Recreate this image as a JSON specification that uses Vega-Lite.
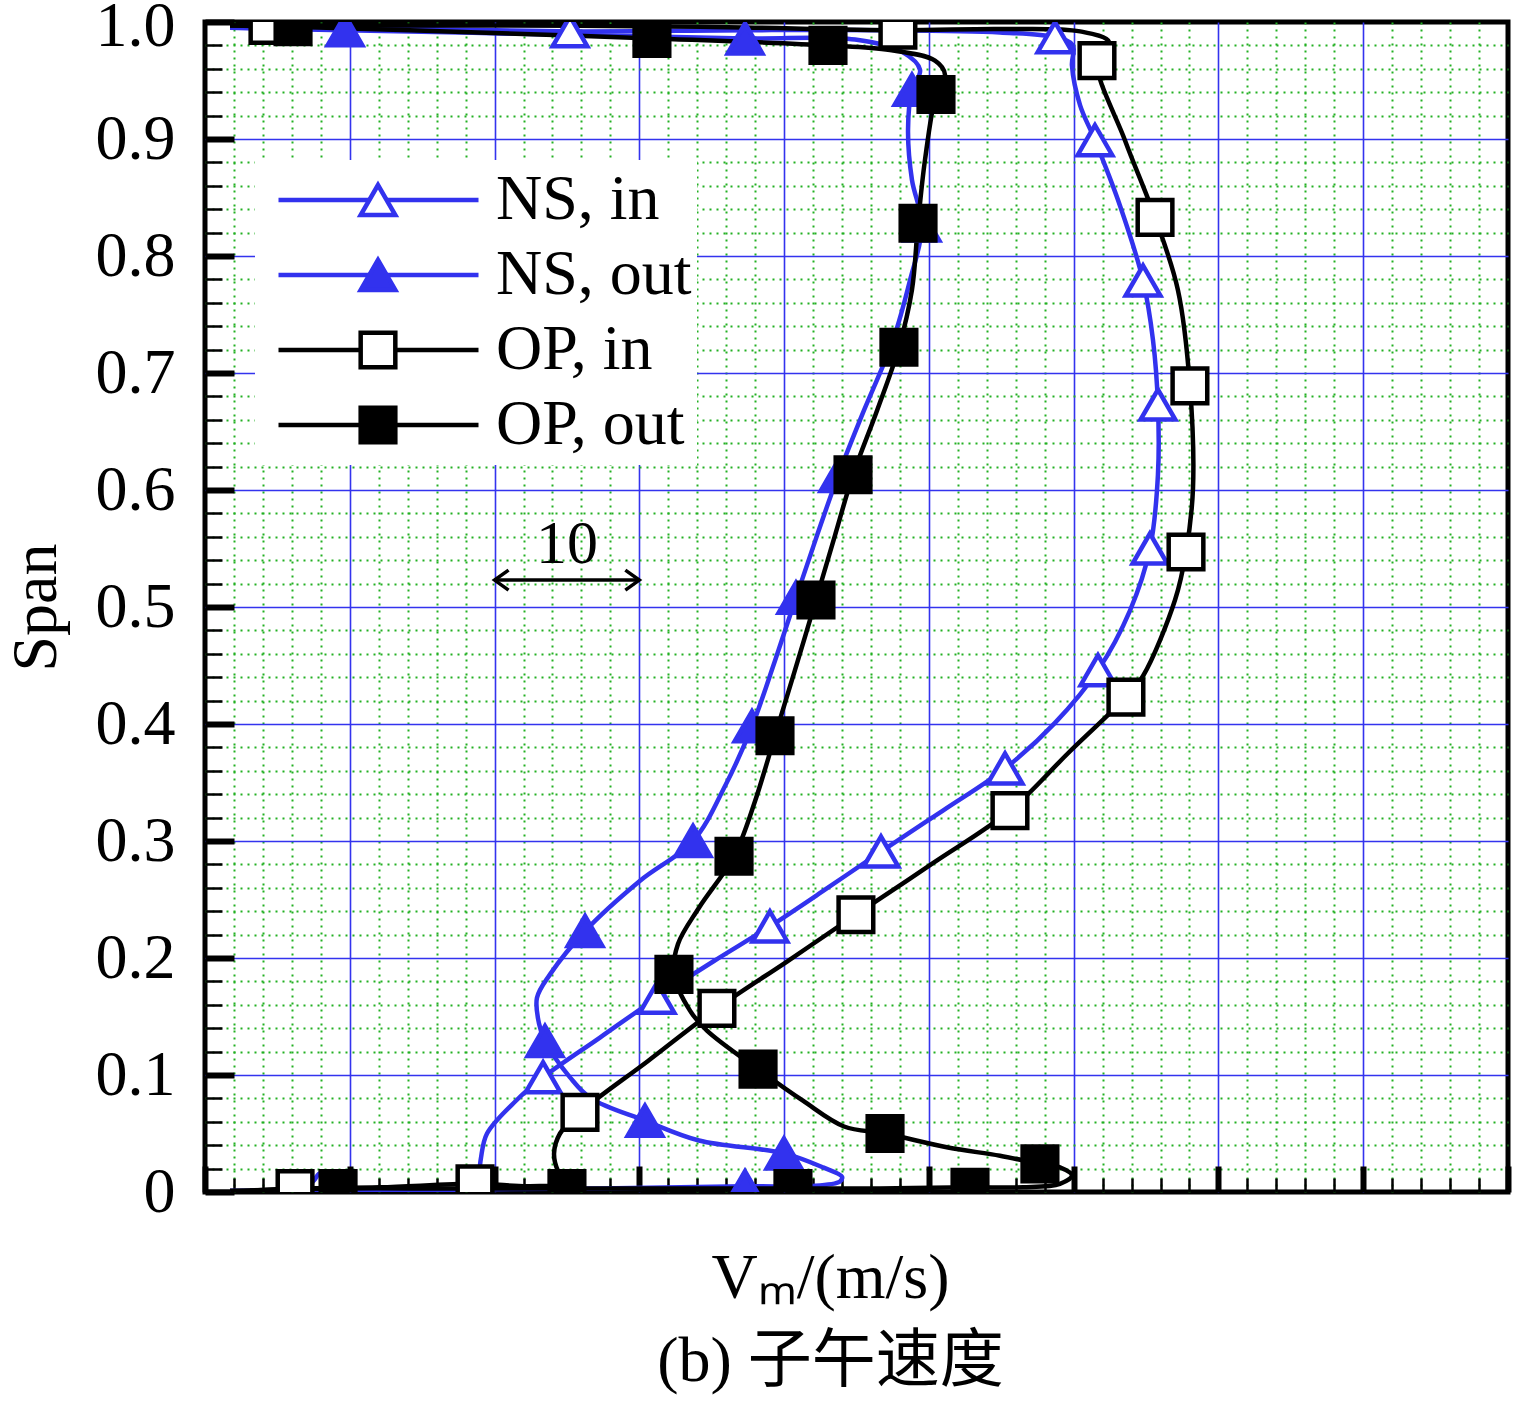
{
  "$schema": "https://vega.github.io/schema/vega-lite/v6.json",
  "width": 1303,
  "height": 1170,
  "autosize": {"type": "none"},
  "padding": {"left": 205, "top": 22, "right": 16, "bottom": 212},
  "background": "white",
  "config": {
    "view": {"stroke": "black", "strokeWidth": 5},
    "text": {"font": "Liberation Serif"}
  },
  "datasets": {
    "curves": [
      {"series": "NS, in", "k": 1, "vm": 3.11, "span": 0.001, "marker": 0},
      {"series": "NS, in", "k": 2, "vm": 6.56, "span": 0.003, "marker": 0},
      {"series": "NS, in", "k": 3, "vm": 7.46, "span": 0.009, "marker": 0},
      {"series": "NS, in", "k": 4, "vm": 7.94, "span": 0.016, "marker": 0},
      {"series": "NS, in", "k": 5, "vm": 8.43, "span": 0.008, "marker": 0},
      {"series": "NS, in", "k": 6, "vm": 9.67, "span": 0.002, "marker": 0},
      {"series": "NS, in", "k": 7, "vm": 14.85, "span": 0.002, "marker": 0},
      {"series": "NS, in", "k": 8, "vm": 18.86, "span": 0.003, "marker": 0},
      {"series": "NS, in", "k": 9, "vm": 18.92, "span": 0.012, "marker": 0},
      {"series": "NS, in", "k": 10, "vm": 19.06, "span": 0.029, "marker": 0},
      {"series": "NS, in", "k": 11, "vm": 19.48, "span": 0.05, "marker": 0},
      {"series": "NS, in", "k": 12, "vm": 21.48, "span": 0.078, "marker": 0},
      {"series": "NS, in", "k": 13, "vm": 23.35, "span": 0.098, "marker": 1},
      {"series": "NS, in", "k": 14, "vm": 27.28, "span": 0.132, "marker": 0},
      {"series": "NS, in", "k": 15, "vm": 31.22, "span": 0.166, "marker": 1},
      {"series": "NS, in", "k": 16, "vm": 35.1, "span": 0.197, "marker": 0},
      {"series": "NS, in", "k": 17, "vm": 39.02, "span": 0.227, "marker": 1},
      {"series": "NS, in", "k": 18, "vm": 42.9, "span": 0.259, "marker": 0},
      {"series": "NS, in", "k": 19, "vm": 46.69, "span": 0.291, "marker": 1},
      {"series": "NS, in", "k": 20, "vm": 50.97, "span": 0.326, "marker": 0},
      {"series": "NS, in", "k": 21, "vm": 55.26, "span": 0.362, "marker": 1},
      {"series": "NS, in", "k": 22, "vm": 58.71, "span": 0.401, "marker": 0},
      {"series": "NS, in", "k": 23, "vm": 61.68, "span": 0.446, "marker": 1},
      {"series": "NS, in", "k": 24, "vm": 63.89, "span": 0.497, "marker": 0},
      {"series": "NS, in", "k": 25, "vm": 65.27, "span": 0.55, "marker": 1},
      {"series": "NS, in", "k": 26, "vm": 65.82, "span": 0.613, "marker": 0},
      {"series": "NS, in", "k": 27, "vm": 65.82, "span": 0.673, "marker": 1},
      {"series": "NS, in", "k": 28, "vm": 65.48, "span": 0.728, "marker": 0},
      {"series": "NS, in", "k": 29, "vm": 64.79, "span": 0.779, "marker": 1},
      {"series": "NS, in", "k": 30, "vm": 63.2, "span": 0.843, "marker": 0},
      {"series": "NS, in", "k": 31, "vm": 61.47, "span": 0.899, "marker": 1},
      {"series": "NS, in", "k": 32, "vm": 60.44, "span": 0.929, "marker": 0},
      {"series": "NS, in", "k": 33, "vm": 59.88, "span": 0.963, "marker": 0},
      {"series": "NS, in", "k": 34, "vm": 59.95, "span": 0.98, "marker": 0},
      {"series": "NS, in", "k": 35, "vm": 58.71, "span": 0.987, "marker": 1},
      {"series": "NS, in", "k": 36, "vm": 54.91, "span": 0.991, "marker": 0},
      {"series": "NS, in", "k": 37, "vm": 47.0, "span": 0.993, "marker": 0},
      {"series": "NS, in", "k": 38, "vm": 37.5, "span": 0.993, "marker": 0},
      {"series": "NS, in", "k": 39, "vm": 25.21, "span": 0.992, "marker": 1},
      {"series": "NS, in", "k": 40, "vm": 15.0, "span": 0.994, "marker": 0},
      {"series": "NS, in", "k": 41, "vm": 1.73, "span": 0.996, "marker": 0},

      {"series": "NS, out", "k": 1, "vm": 1.73, "span": 0.001, "marker": 0},
      {"series": "NS, out", "k": 2, "vm": 13.47, "span": 0.002, "marker": 0},
      {"series": "NS, out", "k": 3, "vm": 27.28, "span": 0.003, "marker": 0},
      {"series": "NS, out", "k": 4, "vm": 37.3, "span": 0.005, "marker": 1},
      {"series": "NS, out", "k": 5, "vm": 41.86, "span": 0.005, "marker": 0},
      {"series": "NS, out", "k": 6, "vm": 43.86, "span": 0.009, "marker": 0},
      {"series": "NS, out", "k": 7, "vm": 44.0, "span": 0.013, "marker": 0},
      {"series": "NS, out", "k": 8, "vm": 42.69, "span": 0.021, "marker": 0},
      {"series": "NS, out", "k": 9, "vm": 39.99, "span": 0.033, "marker": 1},
      {"series": "NS, out", "k": 10, "vm": 34.12, "span": 0.044, "marker": 0},
      {"series": "NS, out", "k": 11, "vm": 30.39, "span": 0.061, "marker": 1},
      {"series": "NS, out", "k": 12, "vm": 26.66, "span": 0.08, "marker": 0},
      {"series": "NS, out", "k": 13, "vm": 25.21, "span": 0.098, "marker": 0},
      {"series": "NS, out", "k": 14, "vm": 23.48, "span": 0.129, "marker": 1},
      {"series": "NS, out", "k": 15, "vm": 23.07, "span": 0.144, "marker": 0},
      {"series": "NS, out", "k": 16, "vm": 22.93, "span": 0.166, "marker": 0},
      {"series": "NS, out", "k": 17, "vm": 23.83, "span": 0.186, "marker": 0},
      {"series": "NS, out", "k": 18, "vm": 26.25, "span": 0.223, "marker": 1},
      {"series": "NS, out", "k": 19, "vm": 30.05, "span": 0.266, "marker": 0},
      {"series": "NS, out", "k": 20, "vm": 33.71, "span": 0.3, "marker": 1},
      {"series": "NS, out", "k": 21, "vm": 35.92, "span": 0.347, "marker": 0},
      {"series": "NS, out", "k": 22, "vm": 37.78, "span": 0.398, "marker": 1},
      {"series": "NS, out", "k": 23, "vm": 39.37, "span": 0.454, "marker": 0},
      {"series": "NS, out", "k": 24, "vm": 40.82, "span": 0.508, "marker": 1},
      {"series": "NS, out", "k": 25, "vm": 42.27, "span": 0.561, "marker": 0},
      {"series": "NS, out", "k": 26, "vm": 43.72, "span": 0.612, "marker": 1},
      {"series": "NS, out", "k": 27, "vm": 45.38, "span": 0.664, "marker": 0},
      {"series": "NS, out", "k": 28, "vm": 47.52, "span": 0.728, "marker": 0},
      {"series": "NS, out", "k": 29, "vm": 48.69, "span": 0.779, "marker": 0},
      {"series": "NS, out", "k": 30, "vm": 49.52, "span": 0.826, "marker": 1},
      {"series": "NS, out", "k": 31, "vm": 48.83, "span": 0.865, "marker": 0},
      {"series": "NS, out", "k": 32, "vm": 48.56, "span": 0.908, "marker": 0},
      {"series": "NS, out", "k": 33, "vm": 48.83, "span": 0.942, "marker": 1},
      {"series": "NS, out", "k": 34, "vm": 49.39, "span": 0.959, "marker": 0},
      {"series": "NS, out", "k": 35, "vm": 48.21, "span": 0.974, "marker": 0},
      {"series": "NS, out", "k": 36, "vm": 44.9, "span": 0.985, "marker": 0},
      {"series": "NS, out", "k": 37, "vm": 37.3, "span": 0.986, "marker": 1},
      {"series": "NS, out", "k": 38, "vm": 25.21, "span": 0.989, "marker": 0},
      {"series": "NS, out", "k": 39, "vm": 9.67, "span": 0.993, "marker": 1},
      {"series": "NS, out", "k": 40, "vm": 1.73, "span": 0.995, "marker": 0},

      {"series": "OP, in", "k": 1, "vm": 3.11, "span": 0.001, "marker": 0},
      {"series": "OP, in", "k": 2, "vm": 6.22, "span": 0.003, "marker": 1},
      {"series": "OP, in", "k": 3, "vm": 12.09, "span": 0.004, "marker": 0},
      {"series": "OP, in", "k": 4, "vm": 18.65, "span": 0.007, "marker": 1},
      {"series": "OP, in", "k": 5, "vm": 22.45, "span": 0.005, "marker": 0},
      {"series": "OP, in", "k": 6, "vm": 24.93, "span": 0.008, "marker": 0},
      {"series": "OP, in", "k": 7, "vm": 24.38, "span": 0.018, "marker": 0},
      {"series": "OP, in", "k": 8, "vm": 24.11, "span": 0.033, "marker": 0},
      {"series": "OP, in", "k": 9, "vm": 24.52, "span": 0.05, "marker": 0},
      {"series": "OP, in", "k": 10, "vm": 25.9, "span": 0.068, "marker": 1},
      {"series": "OP, in", "k": 11, "vm": 30.6, "span": 0.112, "marker": 0},
      {"series": "OP, in", "k": 12, "vm": 35.36, "span": 0.157, "marker": 1},
      {"series": "OP, in", "k": 13, "vm": 40.2, "span": 0.197, "marker": 0},
      {"series": "OP, in", "k": 14, "vm": 44.96, "span": 0.237, "marker": 1},
      {"series": "OP, in", "k": 15, "vm": 50.28, "span": 0.281, "marker": 0},
      {"series": "OP, in", "k": 16, "vm": 55.6, "span": 0.326, "marker": 1},
      {"series": "OP, in", "k": 17, "vm": 59.61, "span": 0.375, "marker": 0},
      {"series": "OP, in", "k": 18, "vm": 63.61, "span": 0.423, "marker": 1},
      {"series": "OP, in", "k": 19, "vm": 64.79, "span": 0.441, "marker": 0},
      {"series": "OP, in", "k": 20, "vm": 67.0, "span": 0.506, "marker": 0},
      {"series": "OP, in", "k": 21, "vm": 67.76, "span": 0.547, "marker": 1},
      {"series": "OP, in", "k": 22, "vm": 68.24, "span": 0.601, "marker": 0},
      {"series": "OP, in", "k": 23, "vm": 68.03, "span": 0.689, "marker": 1},
      {"series": "OP, in", "k": 24, "vm": 67.2, "span": 0.771, "marker": 0},
      {"series": "OP, in", "k": 25, "vm": 65.62, "span": 0.833, "marker": 1},
      {"series": "OP, in", "k": 26, "vm": 63.54, "span": 0.899, "marker": 0},
      {"series": "OP, in", "k": 27, "vm": 61.61, "span": 0.967, "marker": 1},
      {"series": "OP, in", "k": 28, "vm": 62.44, "span": 0.983, "marker": 0},
      {"series": "OP, in", "k": 29, "vm": 60.44, "span": 0.992, "marker": 0},
      {"series": "OP, in", "k": 30, "vm": 54.91, "span": 0.994, "marker": 0},
      {"series": "OP, in", "k": 31, "vm": 47.86, "span": 0.993, "marker": 1},
      {"series": "OP, in", "k": 32, "vm": 34.19, "span": 0.996, "marker": 0},
      {"series": "OP, in", "k": 33, "vm": 18.86, "span": 0.997, "marker": 0},
      {"series": "OP, in", "k": 34, "vm": 4.35, "span": 0.997, "marker": 1},
      {"series": "OP, in", "k": 35, "vm": 1.73, "span": 0.997, "marker": 0},

      {"series": "OP, out", "k": 1, "vm": 1.73, "span": 0.001, "marker": 0},
      {"series": "OP, out", "k": 2, "vm": 9.19, "span": 0.003, "marker": 1},
      {"series": "OP, out", "k": 3, "vm": 16.92, "span": 0.003, "marker": 0},
      {"series": "OP, out", "k": 4, "vm": 25.0, "span": 0.003, "marker": 1},
      {"series": "OP, out", "k": 5, "vm": 32.81, "span": 0.003, "marker": 0},
      {"series": "OP, out", "k": 6, "vm": 40.61, "span": 0.003, "marker": 1},
      {"series": "OP, out", "k": 7, "vm": 46.62, "span": 0.003, "marker": 0},
      {"series": "OP, out", "k": 8, "vm": 52.84, "span": 0.004, "marker": 1},
      {"series": "OP, out", "k": 9, "vm": 56.5, "span": 0.004, "marker": 0},
      {"series": "OP, out", "k": 10, "vm": 59.05, "span": 0.007, "marker": 0},
      {"series": "OP, out", "k": 11, "vm": 59.88, "span": 0.014, "marker": 0},
      {"series": "OP, out", "k": 12, "vm": 59.05, "span": 0.021, "marker": 0},
      {"series": "OP, out", "k": 13, "vm": 57.67, "span": 0.024, "marker": 1},
      {"series": "OP, out", "k": 14, "vm": 54.91, "span": 0.031, "marker": 0},
      {"series": "OP, out", "k": 15, "vm": 51.32, "span": 0.038, "marker": 0},
      {"series": "OP, out", "k": 16, "vm": 46.97, "span": 0.05, "marker": 1},
      {"series": "OP, out", "k": 17, "vm": 44.14, "span": 0.056, "marker": 0},
      {"series": "OP, out", "k": 18, "vm": 41.3, "span": 0.078, "marker": 0},
      {"series": "OP, out", "k": 19, "vm": 38.2, "span": 0.105, "marker": 1},
      {"series": "OP, out", "k": 20, "vm": 34.67, "span": 0.138, "marker": 0},
      {"series": "OP, out", "k": 21, "vm": 33.5, "span": 0.155, "marker": 0},
      {"series": "OP, out", "k": 22, "vm": 32.39, "span": 0.186, "marker": 1},
      {"series": "OP, out", "k": 23, "vm": 32.67, "span": 0.212, "marker": 0},
      {"series": "OP, out", "k": 24, "vm": 34.12, "span": 0.243, "marker": 0},
      {"series": "OP, out", "k": 25, "vm": 36.54, "span": 0.287, "marker": 1},
      {"series": "OP, out", "k": 26, "vm": 37.99, "span": 0.334, "marker": 0},
      {"series": "OP, out", "k": 27, "vm": 39.37, "span": 0.39, "marker": 1},
      {"series": "OP, out", "k": 28, "vm": 40.75, "span": 0.446, "marker": 0},
      {"series": "OP, out", "k": 29, "vm": 42.2, "span": 0.506, "marker": 1},
      {"series": "OP, out", "k": 30, "vm": 43.51, "span": 0.561, "marker": 0},
      {"series": "OP, out", "k": 31, "vm": 44.76, "span": 0.613, "marker": 1},
      {"series": "OP, out", "k": 32, "vm": 46.42, "span": 0.668, "marker": 0},
      {"series": "OP, out", "k": 33, "vm": 47.93, "span": 0.722, "marker": 1},
      {"series": "OP, out", "k": 34, "vm": 48.83, "span": 0.771, "marker": 0},
      {"series": "OP, out", "k": 35, "vm": 49.25, "span": 0.828, "marker": 1},
      {"series": "OP, out", "k": 36, "vm": 49.73, "span": 0.882, "marker": 0},
      {"series": "OP, out", "k": 37, "vm": 50.49, "span": 0.938, "marker": 1},
      {"series": "OP, out", "k": 38, "vm": 51.11, "span": 0.955, "marker": 0},
      {"series": "OP, out", "k": 39, "vm": 50.42, "span": 0.967, "marker": 0},
      {"series": "OP, out", "k": 40, "vm": 47.31, "span": 0.976, "marker": 0},
      {"series": "OP, out", "k": 41, "vm": 43.03, "span": 0.98, "marker": 1},
      {"series": "OP, out", "k": 42, "vm": 30.87, "span": 0.986, "marker": 1},
      {"series": "OP, out", "k": 43, "vm": 18.86, "span": 0.991, "marker": 0},
      {"series": "OP, out", "k": 44, "vm": 6.08, "span": 0.996, "marker": 1},
      {"series": "OP, out", "k": 45, "vm": 1.73, "span": 0.997, "marker": 0}
    ],
    "arrow": [{"vm": 20, "vm2": 30, "span": 0.523}],
    "note": [{"vm": 25, "span": 0.554, "text": "10"}]
  },
  "layer": [
    {
      "data": {"name": "curves"},
      "mark": {"type": "line", "interpolate": "catmull-rom", "strokeWidth": 4.5, "clip": true},
      "encoding": {
        "x": {
          "field": "vm",
          "type": "quantitative",
          "scale": {"domain": [0, 90], "nice": false, "zero": false},
          "axis": {
            "title": ["Vₘ/(m/s)", "(b) 子午速度"],
            "titleFont": "Liberation Serif, Noto Sans CJK SC",
            "titleFontSize": 64,
            "titleFontWeight": "normal",
            "titleColor": "black",
            "titleX": 625,
            "titleY": 54,
            "titleAlign": "center",
            "titleBaseline": "top",
            "titleAngle": 0,
            "titleLineHeight": 83,
            "values": [0, 2, 4, 6, 8, 10, 12, 14, 16, 18, 20, 22, 24, 26, 28, 30, 32, 34, 36, 38, 40, 42, 44, 46, 48, 50, 52, 54, 56, 58, 60, 62, 64, 66, 68, 70, 72, 74, 76, 78, 80, 82, 84, 86, 88, 90],
            "tickCount": 200,
            "labels": false,
            "domain": false,
            "tickColor": "black",
            "tickSize": {"condition": {"test": "datum.value % 10 === 0", "value": -26}, "value": -14},
            "tickWidth": {"condition": {"test": "datum.value % 10 === 0", "value": 6}, "value": 2.5},
            "grid": true,
            "gridWidth": {"condition": {"test": "datum.value % 10 === 0", "value": 1.6}, "value": 2},
            "gridColor": {"condition": {"test": "datum.value % 10 === 0", "value": "#3333ee"}, "value": "#22b022"},
            "gridDash": {"condition": {"test": "datum.value % 10 === 0", "value": []}, "value": [2, 5]},
            "gridOpacity": {"condition": {"test": "datum.value <= 0 || datum.value >= 90", "value": 0}, "value": 1}
          }
        },
        "y": {
          "field": "span",
          "type": "quantitative",
          "scale": {"domain": [0, 1], "nice": false, "zero": false},
          "axis": {
            "title": "Span",
            "titleFont": "Liberation Serif",
            "titleFontSize": 64,
            "titleFontWeight": "normal",
            "titleColor": "black",
            "titleX": -150,
            "titleY": 585,
            "titleAngle": 270,
            "titleAlign": "center",
            "titleBaseline": "alphabetic",
            "values": [0, 0.02, 0.04, 0.06, 0.08, 0.1, 0.12, 0.14, 0.16, 0.18, 0.2, 0.22, 0.24, 0.26, 0.28, 0.3, 0.32, 0.34, 0.36, 0.38, 0.4, 0.42, 0.44, 0.46, 0.48, 0.5, 0.52, 0.54, 0.56, 0.58, 0.6, 0.62, 0.64, 0.66, 0.68, 0.7, 0.72, 0.74, 0.76, 0.78, 0.8, 0.82, 0.84, 0.86, 0.88, 0.9, 0.92, 0.94, 0.96, 0.98, 1],
            "tickCount": 200,
            "labelExpr": "datum.value == 0 ? '0' : (abs(datum.value * 10 - round(datum.value * 10)) < 0.001 ? format(datum.value, '.1f') : '')",
            "labelFont": "Liberation Serif",
            "labelFontSize": 64,
            "labelColor": "black",
            "labelPadding": 59,
            "labelOffset": {"condition": {"test": "datum.value >= 1", "value": 4}, "value": 0},
            "labelOverlap": false,
            "labelFlush": false,
            "domain": false,
            "tickColor": "black",
            "tickSize": {"condition": {"test": "abs(datum.value * 10 - round(datum.value * 10)) < 0.001", "value": -29}, "value": -17},
            "tickWidth": {"condition": {"test": "abs(datum.value * 10 - round(datum.value * 10)) < 0.001", "value": 6}, "value": 2.5},
            "grid": true,
            "gridWidth": {"condition": {"test": "abs(datum.value * 10 - round(datum.value * 10)) < 0.001", "value": 1.6}, "value": 2},
            "gridColor": {"condition": {"test": "abs(datum.value * 10 - round(datum.value * 10)) < 0.001", "value": "#3333ee"}, "value": "#22b022"},
            "gridDash": {"condition": {"test": "abs(datum.value * 10 - round(datum.value * 10)) < 0.001", "value": []}, "value": [2, 5]},
            "gridOpacity": {"condition": {"test": "datum.value <= 0 || datum.value >= 1", "value": 0}, "value": 1}
          }
        },
        "order": {"field": "k", "type": "quantitative"},
        "color": {
          "field": "series",
          "type": "nominal",
          "scale": {"domain": ["NS, in", "NS, out", "OP, in", "OP, out"], "range": ["#3232ee", "#3232ee", "black", "black"]},
          "legend": {
            "title": null,
            "orient": "none",
            "legendX": 50,
            "legendY": 138,
            "direction": "vertical",
            "fillColor": "white",
            "padding": 5,
            "clipHeight": 70,
            "rowPadding": 5,
            "symbolType": "stroke",
            "symbolSize": 40000,
            "symbolStrokeWidth": 4.5,
            "symbolOffset": 16,
            "labelOffset": 15,
            "labelFont": "Liberation Serif",
            "labelFontSize": 64,
            "labelColor": "black",
            "labelLimit": 0,
            "zindex": 1
          }
        }
      }
    },
    {
      "data": {"name": "curves"},
      "transform": [{"filter": "datum.marker == 1"}],
      "mark": {"type": "point", "filled": true, "strokeWidth": 4.5, "opacity": 1, "clip": true},
      "encoding": {
        "x": {"field": "vm", "type": "quantitative"},
        "y": {"field": "span", "type": "quantitative"},
        "shape": {
          "field": "series",
          "type": "nominal",
          "scale": {"range": ["triangle-up", "triangle-up", "square", "square"]},
          "legend": {"title": null, "orient": "none", "legendX": 136, "legendY": 138, "direction": "vertical", "padding": 5, "clipHeight": 70, "rowPadding": 5, "symbolStrokeWidth": 4.5, "symbolOpacity": 1, "symbolOffset": 0, "labelFontSize": 64, "labelExpr": "''", "zindex": 2}
        },
        "fill": {
          "field": "series",
          "type": "nominal",
          "scale": {"range": ["white", "#3232ee", "white", "black"]},
          "legend": {"title": null, "orient": "none", "legendX": 136, "legendY": 138, "direction": "vertical", "padding": 5, "clipHeight": 70, "rowPadding": 5, "symbolStrokeWidth": 4.5, "symbolOpacity": 1, "symbolOffset": 0, "labelFontSize": 64, "labelExpr": "''", "zindex": 2}
        },
        "stroke": {
          "field": "series",
          "type": "nominal",
          "scale": {"range": ["#3232ee", "#3232ee", "black", "black"]},
          "legend": {"title": null, "orient": "none", "legendX": 136, "legendY": 138, "direction": "vertical", "padding": 5, "clipHeight": 70, "rowPadding": 5, "symbolStrokeWidth": 4.5, "symbolOpacity": 1, "symbolOffset": 0, "labelFontSize": 64, "labelExpr": "''", "zindex": 2}
        },
        "size": {
          "field": "series",
          "type": "nominal",
          "scale": {"range": [1200, 1200, 850, 850]},
          "legend": {"title": null, "orient": "none", "legendX": 136, "legendY": 138, "direction": "vertical", "padding": 5, "clipHeight": 70, "rowPadding": 5, "symbolStrokeWidth": 4.5, "symbolOpacity": 1, "symbolOffset": 0, "labelFontSize": 64, "labelExpr": "''", "zindex": 2}
        }
      }
    },
    {
      "data": {"name": "arrow"},
      "mark": {"type": "rule", "color": "black", "strokeWidth": 3.5},
      "encoding": {
        "x": {"field": "vm", "type": "quantitative"},
        "x2": {"field": "vm2"},
        "y": {"field": "span", "type": "quantitative"}
      }
    },
    {
      "data": {"name": "arrow"},
      "mark": {"type": "point", "shape": "M1.4,-1L0,0L1.4,1", "size": 400, "filled": false, "stroke": "black", "strokeWidth": 3.5, "opacity": 1},
      "encoding": {
        "x": {"field": "vm", "type": "quantitative"},
        "y": {"field": "span", "type": "quantitative"}
      }
    },
    {
      "data": {"name": "arrow"},
      "mark": {"type": "point", "shape": "M-1.4,-1L0,0L-1.4,1", "size": 400, "filled": false, "stroke": "black", "strokeWidth": 3.5, "opacity": 1},
      "encoding": {
        "x": {"field": "vm2", "type": "quantitative"},
        "y": {"field": "span", "type": "quantitative"}
      }
    },
    {
      "data": {"name": "note"},
      "mark": {"type": "text", "font": "Liberation Serif", "fontSize": 62, "color": "black", "align": "center", "baseline": "middle"},
      "encoding": {
        "x": {"field": "vm", "type": "quantitative"},
        "y": {"field": "span", "type": "quantitative"},
        "text": {"field": "text"}
      }
    }
  ]
}
